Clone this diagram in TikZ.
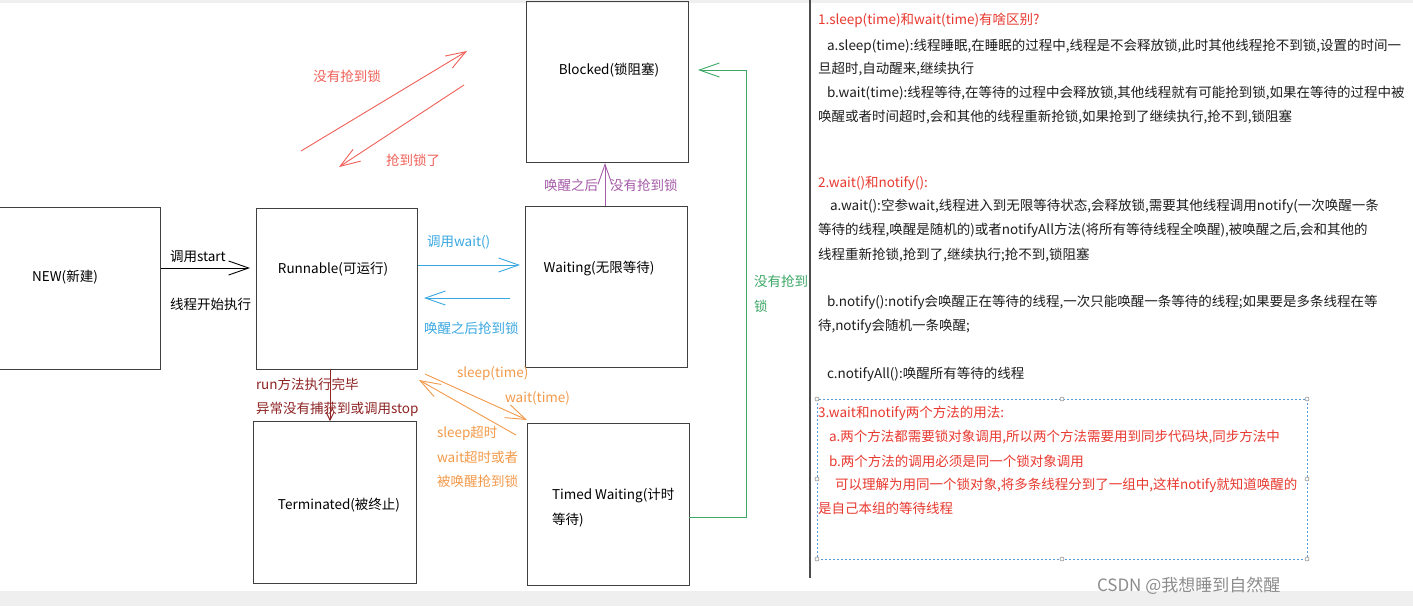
\documentclass[tikz,border=0pt]{standalone}
\usepackage{fontspec}
\newfontfamily\cjk{Noto Sans CJK SC}
\usetikzlibrary{arrows.meta,calc}
\definecolor{boxc}{HTML}{404040}
\definecolor{tred}{HTML}{E8392F}
\definecolor{lred}{HTML}{F06058}
\definecolor{dred}{HTML}{8E2424}
\definecolor{tblue}{HTML}{3AA8E0}
\definecolor{torange}{HTML}{F39A4A}
\definecolor{tpurple}{HTML}{A55BA8}
\definecolor{tgreen}{HTML}{3DA866}
\definecolor{tgray}{HTML}{1E1E1E}
\definecolor{hgray}{HTML}{EFEFEF}
\definecolor{dashc}{HTML}{5B9BD5}
\begin{document}
\begin{tikzpicture}[x=1pt,y=-1pt,
  every node/.style={font=\cjk\fontsize{13.5}{15}\selectfont, inner sep=0pt, outer sep=0pt},
  state/.style={draw=boxc, line width=0.9pt, rectangle},
  conn/.style={line width=0.9pt, -{Straight Barb[length=20pt,width=14pt,line width=0.9pt]}},
  smallconn/.style={line width=0.9pt, -{Straight Barb[length=8pt,width=8pt,line width=0.9pt]}},
  lbl/.style={anchor=west},
  note/.style={anchor=west, text=tgray},
  rnote/.style={anchor=west, text=tred},
  handle/.style={draw=gray, fill=white, line width=0.5pt, circle, minimum size=4pt},
]
\useasboundingbox (0,0) rectangle (1413,606);
\fill[white] (0,0) rectangle (1413,606);
\fill[hgray] (0,0) rectangle (1413,3);
\fill[hgray] (0,591) rectangle (1413,606);

% states
\node[state, minimum width=162pt, minimum height=162pt] (new) at (79,288) {};
\node (newt) at (65,277) {NEW(新建)};
\node[state, minimum width=161pt, minimum height=161pt] (run) at (336.5,288.5) {};
\node (runt) at (333,269) {Runnable(可运行)};
\node[state, minimum width=162pt, minimum height=161pt] (blk) at (607,81.5) {};
\node (blkt) at (609,70) {Blocked(锁阻塞)};
\node[state, minimum width=162pt, minimum height=161pt] (wait) at (606,286.5) {};
\node (waitt) at (599,268) {Waiting(无限等待)};
\node[state, minimum width=163pt, minimum height=162pt] (term) at (334.5,502) {};
\node (termt) at (339,505) {Terminated(被终止)};
\node[state, minimum width=162pt, minimum height=162pt] (timed) at (608,504) {};
\node[anchor=west] (timedt1) at (552,496) {Timed Waiting(计时};
\node[anchor=west] (timedt2) at (552,520) {等待)};

% NEW -> Runnable
\draw[conn, black] ([xshift=1pt,yshift=20pt]new.east) -- ([xshift=-6pt,yshift=20.5pt]run.west);
\node[lbl] (l1) at (170,257) {调用start};
\node[lbl] (l2) at (170,304) {线程开始执行};

% Runnable <-> Waiting
\draw[conn, tblue] ([xshift=1pt,yshift=23.5pt]run.east) -- ([xshift=-5pt,yshift=21.5pt]wait.west);
\draw[conn, tblue] ([xshift=-15pt,yshift=-11.5pt]wait.west) -- ([xshift=7pt,yshift=-9.5pt]run.east);
\node[lbl, text=tblue] (l3) at (427,242) {调用wait()};
\node[lbl, text=tblue] (l4) at (424,328) {唤醒之后抢到锁};

% Runnable -> Terminated
\draw[smallconn, dred] ([xshift=-6.5pt]run.south) -- ([xshift=-4.5pt]term.north);
\node[lbl, text=dred] (l5) at (256,384) {run方法执行完毕};
\node[lbl, text=dred] (l6) at (256,409) {异常没有捕获到或调用stop};

% Runnable <-> Timed Waiting
\draw[conn, torange] ([xshift=8pt,yshift=-5pt]run.south east) -- ([yshift=3pt]timed.north west);
\draw[conn, torange] ([xshift=-11pt,yshift=-12pt]timed.north west) -- ([xshift=2pt,yshift=-11pt]run.south east);
\node[lbl, text=torange] (l7) at (457,374) {sleep(time)};
\node[lbl, text=torange] (l8) at (505,398) {wait(time)};
\node[lbl, text=torange] (l9) at (437,433) {sleep超时};
\node[lbl, text=torange] (l10) at (437,457) {wait超时或者};
\node[lbl, text=torange] (l11) at (437,481) {被唤醒抢到锁};

% Waiting -> Blocked
\draw[conn, tpurple] ([xshift=-1pt]wait.north) -- ([xshift=-2pt,yshift=-1pt]blk.south);
\node[anchor=east, text=tpurple] (l12) at (598,185) {唤醒之后};
\node[anchor=west, text=tpurple] (l13) at (610,185) {没有抢到锁};

% Runnable <-> Blocked (free red arrows)
\coordinate (ra1) at (301,151);
\coordinate (ra2) at (467,51);
\coordinate (rb1) at (464,85);
\coordinate (rb2) at (339,167);
\draw[conn, lred] (ra1) -- (ra2);
\draw[conn, lred] (rb1) -- (rb2);
\node[text=lred] (l14) at (347,76) {没有抢到锁};
\node[text=lred] (l15) at (413,160) {抢到锁了};

% Timed Waiting -> Blocked
\draw[conn, tgreen] ([yshift=-13pt]timed.east) -- ++(57,0) |- ([xshift=10pt,yshift=11.5pt]blk.east);
\node[lbl, text=tgreen] (l16) at (754,281) {没有抢到};
\node[lbl, text=tgreen] (l17) at (754,306) {锁};

% separator
\draw[line width=1.3pt, draw=black!70] (810,0) -- (810,578);

% notes
\node[rnote] (n1) at (818,20) {1.sleep(time)和wait(time)有啥区别?};
\node[note] (n2) at (827,46) {a.sleep(time):线程睡眠,在睡眠的过程中,线程是不会释放锁,此时其他线程抢不到锁,设置的时间一};
\node[note] (n3) at (818,69) {旦超时,自动醒来,继续执行};
\node[note] (n4) at (827,93) {b.wait(time):线程等待,在等待的过程中会释放锁,其他线程就有可能抢到锁,如果在等待的过程中被};
\node[note] (n5) at (818,117) {唤醒或者时间超时,会和其他的线程重新抢锁,如果抢到了继续执行,抢不到,锁阻塞};
\node[rnote] (n6) at (818,183) {2.wait()和notify():};
\node[note] (n7) at (830,206) {a.wait():空参wait,线程进入到无限等待状态,会释放锁,需要其他线程调用notify(一次唤醒一条};
\node[note] (n8) at (818,230) {等待的线程,唤醒是随机的)或者notifyAll方法(将所有等待线程全唤醒),被唤醒之后,会和其他的};
\node[note] (n9) at (818,255) {线程重新抢锁,抢到了,继续执行;抢不到,锁阻塞};
\node[note] (n10) at (827,302) {b.notify():notify会唤醒正在等待的线程,一次只能唤醒一条等待的线程;如果要是多条线程在等};
\node[note] (n11) at (818,326) {待,notify会随机一条唤醒;};
\node[note] (n12) at (827,374) {c.notifyAll():唤醒所有等待的线程};

% dashed selection box
\draw[dashc, dash pattern=on 2pt off 2pt, line width=0.8pt] (817,399) rectangle (1307,559);
\foreach \p in {(817,399),(1062,399),(1307,399),(817,479),(1307,479),(817,559),(1062,559),(1307,559)}
  \node[handle] at \p {};
\node[rnote] (n13) at (818,413) {3.wait和notify两个方法的用法:};
\node[rnote] (n14) at (829,437) {a.两个方法都需要锁对象调用,所以两个方法需要用到同步代码块,同步方法中};
\node[rnote] (n15) at (829,461) {b.两个方法的调用必须是同一个锁对象调用};
\node[rnote] (n16) at (835,485) {可以理解为用同一个锁对象,将多条线程分到了一组中,这样notify就知道唤醒的};
\node[rnote] (n17) at (818,508) {是自己本组的等待线程};

% watermark
\node[anchor=west, text=black!45, font=\cjk\fontsize{17}{19}\selectfont] (wm) at (1097,586) {CSDN @我想睡到自然醒};
\end{tikzpicture}
\end{document}
